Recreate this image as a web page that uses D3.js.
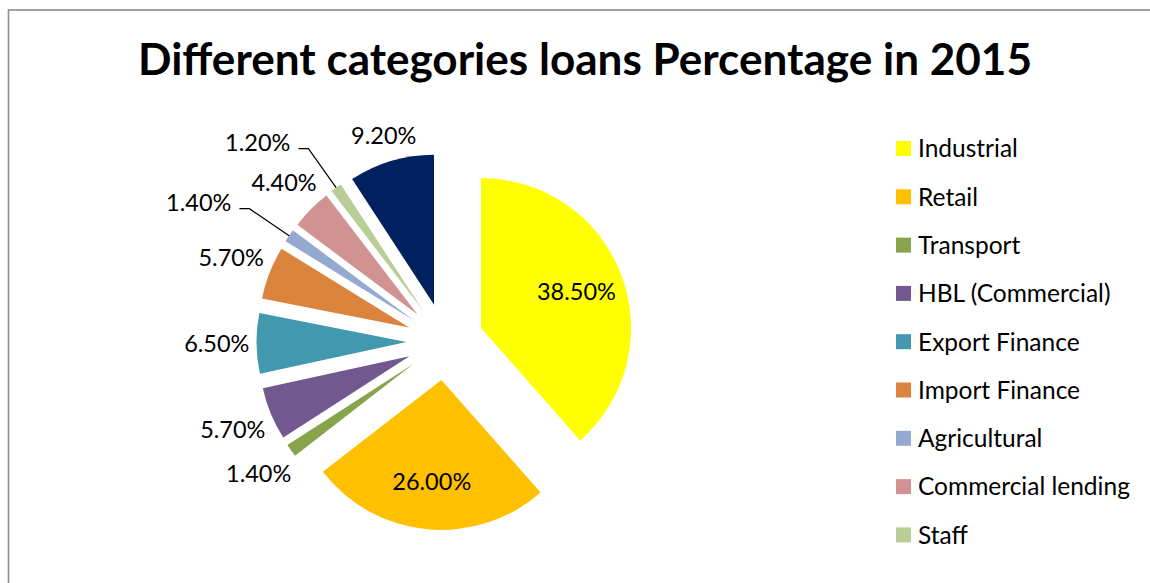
<!DOCTYPE html>
<html>
<head>
<meta charset="UTF-8">
<title>Different categories loans Percentage in 2015</title>
<script src="https://cdn.jsdelivr.net/npm/d3@7/dist/d3.min.js"></script>
<style>
  body { margin: 0; background: #fff; }
  text { font-family: Lato, "Open Sans", sans-serif; fill: #000; }
</style>
</head>
<body>
<svg width="1150" height="583"></svg>
<script>
// data
var categories = ["Industrial", "Retail", "Transport", "HBL (Commercial)", "Export Finance",
                  "Import Finance", "Agricultural", "Commercial lending", "Staff", "Others"];
var values = [38.5, 26.0, 1.4, 5.7, 6.5, 5.7, 1.4, 4.4, 1.2, 9.2];
var colors = ["#ffff00", "#ffc000", "#87a34b", "#71588f", "#4198af",
              "#db843d", "#93a9cf", "#d19392", "#b9cd96", "#002060"];
// the legend in the original is cut short after "Staff"
var legendCount = 9;

var svg = d3.select("svg");

// chart frame (only top and left edges are visible)
svg.append("rect")
  .attr("x", 8.5).attr("y", 10)
  .attr("width", 1300).attr("height", 800)
  .attr("fill", "none")
  .attr("stroke", "#8c8c8c")
  .attr("stroke-width", 1.6);

// title, fitted to the width it has in the picture
var title = svg.append("text")
  .attr("x", 585).attr("y", 75)
  .attr("text-anchor", "middle")
  .style("font-weight", "bold")
  .style("font-size", "44px")
  .text("Different categories loans Percentage in 2015");
var tw = title.node().getComputedTextLength();
title.style("font-size", (44 * 894 / tw) + "px");

var cx = 445, cy = 341.6, R = 150, explode = 38.5;

var pie = d3.pie().sort(null).value(function(d) { return d; });
var arcs = pie(values);
var arc = d3.arc().innerRadius(0).outerRadius(R);

function mid(d) { return (d.startAngle + d.endAngle) / 2; }
function polar(a, r) { return [cx + Math.sin(a) * r, cy - Math.cos(a) * r]; }

var g = svg.append("g");

g.selectAll("path")
  .data(arcs)
  .enter()
  .append("path")
  .attr("d", arc)
  .attr("fill", function(d, i) { return colors[i]; })
  .attr("transform", function(d) {
    var p = polar(mid(d), explode);
    return "translate(" + p[0] + "," + p[1] + ")";
  });

// data labels
var fmt = function(v) { return v.toFixed(2) + "%"; };
var labelSize = 23.5;
var lg = svg.append("g").style("font-size", labelSize + "px");

// place the bigger slices first, small ones get moved out when they collide
var order = d3.range(values.length).sort(function(a, b) { return values[b] - values[a]; });
var placed = [];
var margin = 10;

function overlaps(b) {
  return placed.some(function(p) {
    return b.x0 < p.x1 + margin && b.x1 > p.x0 - margin &&
           b.y0 < p.y1 + margin && b.y1 > p.y0 - margin;
  });
}

order.forEach(function(i) {
  var d = arcs[i];
  var a = mid(d);
  var t = lg.append("text").text(fmt(values[i]));
  var w = t.node().getComputedTextLength();
  var h = labelSize * 0.9;
  var inside = values[i] > 20;
  var p, box;
  if (inside) {
    p = polar(a, explode + R * 0.68);
  } else {
    var ext = Math.abs(Math.sin(a)) * w / 2 + Math.abs(Math.cos(a)) * h / 2;
    p = polar(a, explode + R + 7 + ext);
  }
  box = {x0: p[0] - w / 2, x1: p[0] + w / 2, y0: p[1] - h / 2, y1: p[1] + h / 2};
  if (!inside && overlaps(box)) {
    // leader line from the outer edge of the slice
    var side = Math.sin(a) < 0 ? -1 : 1;
    var start = polar(a, explode + R);
    var elbow = polar(a, explode + R + 48);
    var end = [elbow[0] + side * 10, elbow[1]];
    lg.append("polyline")
      .attr("points", [start, elbow, end].map(function(q) { return q.join(","); }).join(" "))
      .attr("fill", "none")
      .attr("stroke", "#000")
      .attr("stroke-width", 1.2);
    var tx = end[0] + side * 8;
    p = [tx + side * w / 2, elbow[1] - 6];
    box = {x0: p[0] - w / 2, x1: p[0] + w / 2, y0: p[1] - h / 2, y1: p[1] + h / 2};
  }
  placed.push(box);
  t.attr("x", p[0]).attr("y", p[1])
    .attr("text-anchor", "middle")
    .attr("dy", "0.35em");
});

// legend
var legend = svg.append("g")
  .attr("transform", "translate(896,141)")
  .style("font-size", "24.5px");

var items = legend.selectAll("g")
  .data(categories.slice(0, legendCount))
  .enter()
  .append("g")
  .attr("transform", function(d, i) { return "translate(0," + (i * 48.3) + ")"; });

items.append("rect")
  .attr("width", 15).attr("height", 15)
  .attr("fill", function(d, i) { return colors[i]; });

items.append("text")
  .attr("x", 22)
  .attr("y", 7.5)
  .attr("dy", "0.36em")
  .text(function(d) { return d; });
</script>
</body>
</html>
